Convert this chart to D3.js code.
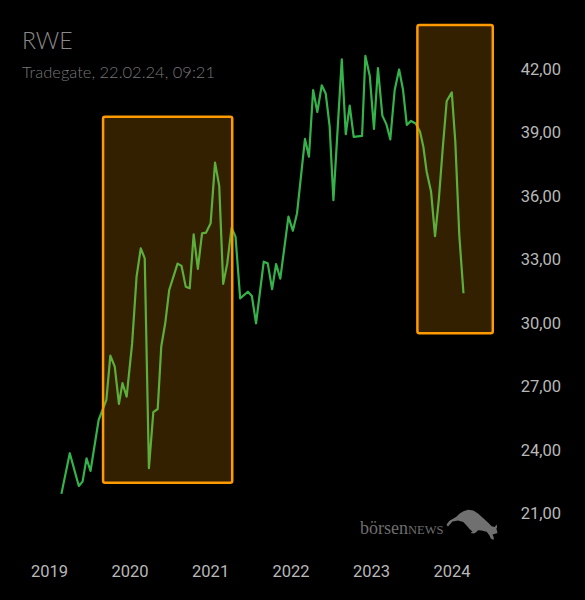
<!DOCTYPE html>
<meta charset="utf-8">
<style>

body {
  margin: 0;
  background: #000;
  width: 585px;
  height: 600px;
  overflow: hidden;
}

.price {
  fill: none;
  stroke: #35b34a;
  stroke-width: 2.2px;
  stroke-linejoin: round;
}

.zone {
  fill: rgba(255, 160, 0, 0.2);
  stroke: #ff9a00;
  stroke-width: 2.5px;
}

.tick-label {
  font-family: Roboto, "Liberation Sans", sans-serif;
  font-size: 16.5px;
  fill: #b8b8b8;
}

.title {
  font-family: Lato, "Open Sans", sans-serif;
  font-weight: 300;
  fill: #8a8a8a;
}

</style>
<body>
<script src="https://d3js.org/d3.v7.min.js"></script>
<script>

var width = 585,
    height = 600;

var dates = ["2019-02-24","2019-04-03","2019-05-14","2019-05-31","2019-06-18","2019-07-06",
  "2019-08-12","2019-09-16","2019-10-04","2019-10-24","2019-11-12","2019-11-28","2019-12-17",
  "2020-01-11","2020-01-31","2020-02-19","2020-03-08","2020-03-27","2020-04-16","2020-05-06",
  "2020-05-22","2020-06-09","2020-06-27","2020-08-04","2020-08-22","2020-09-10","2020-09-28",
  "2020-10-16","2020-11-04","2020-11-23","2020-12-11","2021-01-01","2021-01-21","2021-02-09",
  "2021-02-27","2021-03-17","2021-04-06","2021-04-24","2021-05-15","2021-06-19","2021-07-07",
  "2021-07-26","2021-08-30","2021-09-17","2021-10-07","2021-10-25","2021-11-13","2021-12-20",
  "2022-01-09","2022-01-28","2022-03-05","2022-03-23","2022-04-11","2022-04-30","2022-05-20",
  "2022-06-07","2022-06-25","2022-07-12","2022-08-19","2022-09-06","2022-09-24","2022-10-12",
  "2022-11-19","2022-12-04","2022-12-24","2023-01-12","2023-01-30","2023-02-19","2023-03-09",
  "2023-03-27","2023-04-16","2023-05-06","2023-05-24","2023-06-10","2023-06-29","2023-07-20",
  "2023-08-09","2023-08-24","2023-09-08","2023-09-28","2023-10-16","2023-11-02","2023-11-20",
  "2023-12-08","2023-12-31","2024-01-16","2024-02-03","2024-02-22"];

var prices = [21.88,23.80,22.25,22.46,23.56,22.96,
  25.37,26.32,28.41,27.89,26.13,27.11,26.47,
  29.00,32.14,33.48,33.01,23.09,25.74,25.89,
  28.84,29.94,31.51,32.76,32.65,31.67,31.59,
  34.14,32.51,34.19,34.22,34.66,37.53,36.43,
  31.80,32.74,34.45,34.02,31.12,31.43,31.23,
  29.94,32.85,32.77,31.55,32.74,32.05,34.98,
  34.31,35.14,38.65,37.81,40.96,39.92,41.18,
  40.80,39.23,35.76,42.41,38.87,40.22,38.75,
  38.79,42.57,41.62,39.12,41.99,39.75,39.35,
  38.63,40.96,41.93,40.96,39.31,39.50,39.38,
  38.99,38.28,37.10,36.16,34.06,35.76,38.21,
  40.44,40.85,38.52,34.11,31.36];

// highlighted zones: [start, end, low, high]
var zoneStart = ["2019-09-01", "2023-07-28"],
    zoneEnd   = ["2021-04-09", "2024-07-04"],
    zoneLow   = [22.4, 29.47],
    zoneHigh  = [39.7, 44.03];

var yearTicks = [2019, 2020, 2021, 2022, 2023, 2024];
var priceTicks = [21, 24, 27, 30, 33, 36, 39, 42];

var parse = d3.timeParse("%Y-%m-%d");
var fmt = d3.format(".2f");

var x = d3.scaleTime()
    .domain([new Date(2019, 0, 1), new Date(2024, 0, 1)])
    .range([49.5, 452]);

var y = d3.scaleLinear()
    .domain([21, 42])
    .range([512.5, 68]);

var svg = d3.select("body").append("svg")
    .attr("width", width)
    .attr("height", height);

// title
svg.append("text")
    .attr("class", "title")
    .attr("x", 22)
    .attr("y", 48.5)
    .style("font-size", "23px")
    .text("RWE");

svg.append("text")
    .attr("class", "title")
    .attr("x", 22)
    .attr("y", 77.5)
    .style("font-size", "16.5px")
    .style("fill", "#767676")
    .text("Tradegate, 22.02.24, 09:21");

// watermark
var mark = svg.append("g");
mark.append("text")
    .attr("x", 360)
    .attr("y", 533.5)
    .style("font-family", "'Liberation Serif', serif")
    .style("font-size", "18px")
    .style("fill", "#6e6e6e")
    .text("börsen")
  .append("tspan")
    .style("font-size", "12.5px")
    .text("NEWS");

// bull logo
mark.append("path")
    .attr("d", "M446.5,525 C448,522 449.5,520.5 451.7,519.5 L456,517 L460,513.3 L464,511 L468.3,509.8 " +
               "L473.3,510.5 L478,513.5 L483.3,518.3 L488,522.5 L491.7,526.3 L494.8,527 L496.5,524.5 " +
               "L497.2,527 L496.4,528.5 L497.5,533 L494.5,534 L492.5,534.5 L493.8,537.5 L493.5,540 " +
               "L490.8,538.5 L489.5,535.5 L486.7,531.7 L481.5,530.5 L478,530.2 L476.5,532 L474,533.5 " +
               "L470.5,533 L472.5,531.5 L470,529.5 L467,526 L463.3,522 L458,520.5 L452.5,521.5 " +
               "L448,526.5 Z")
    .style("fill", "#707070");

// price line
var data = dates.map(function(d, i) {
  return {date: parse(d), value: prices[i]};
});

var line = d3.line()
    .x(function(d) { return x(d.date); })
    .y(function(d) { return y(d.value); });

svg.append("path")
    .datum(data)
    .attr("class", "price")
    .attr("d", line);

// zones drawn over the line
svg.selectAll(".zone")
    .data(zoneStart).enter()
    .append("rect")
    .attr("class", "zone")
    .attr("rx", 2)
    .attr("x", function(d) { return x(parse(d)); })
    .attr("y", function(d, i) { return y(zoneHigh[i]); })
    .attr("width", function(d, i) { return x(parse(zoneEnd[i])) - x(parse(d)); })
    .attr("height", function(d, i) { return y(zoneLow[i]) - y(zoneHigh[i]); });

// y axis labels (right side)
svg.selectAll(".ylab")
    .data(priceTicks).enter()
    .append("text")
    .attr("class", "tick-label")
    .attr("x", 561)
    .attr("y", function(d) { return y(d) + 6.5; })
    .attr("text-anchor", "end")
    .text(function(d) { return fmt(d).replace(".", ","); });

// x axis labels
svg.selectAll(".xlab")
    .data(yearTicks).enter()
    .append("text")
    .attr("class", "tick-label")
    .attr("x", function(d) { return x(new Date(d, 0, 1)); })
    .attr("y", 576.5)
    .attr("text-anchor", "middle")
    .text(function(d) { return d; });

</script>
